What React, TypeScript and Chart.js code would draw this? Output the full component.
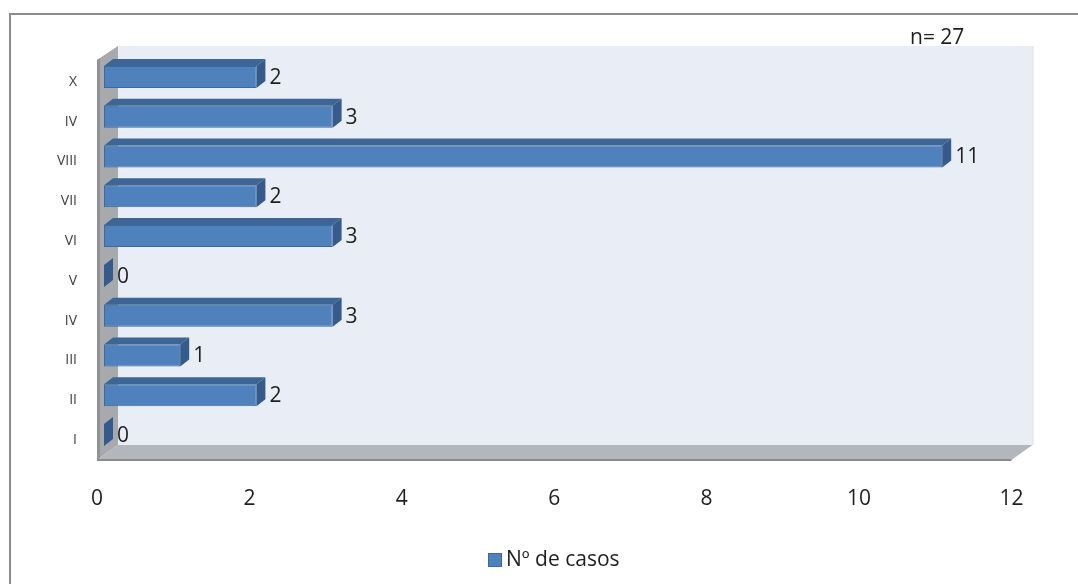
import { useEffect, useRef } from "react";
import { Chart, registerables } from "chart.js";

Chart.register(...registerables);

// Categories listed bottom-to-top, as they appear on the axis
const categories = ["I", "II", "III", "IV", "V", "VI", "VII", "VIII", "IV", "X"];
const casos = [0, 2, 1, 3, 0, 3, 2, 11, 3, 2];
const xTickValues = [0, 2, 4, 6, 8, 10, 12];
const seriesName = "Nº de casos";
const sampleNote = "n= 27";

const FONT = "'Open Sans', Lato, sans-serif";
const TEXT = "#1f1f1f";

// 3D look: the bars sit on a plane between the floor's front edge and the back wall
const FRONT = { dx: -7, dy: 5 };
const BACK = { dx: 14, dy: -10 };
const BAR_DEPTH = { dx: 9, dy: -7 };

const BLUE = "#4f81bd";
const BLUE_EDGE = "#3d6a9e";
const BLUE_TOP = "#3d6596";
const BLUE_SIDE = "#345b8b";

const poly = (ctx: CanvasRenderingContext2D, pts: number[][], fill: string) => {
  ctx.beginPath();
  ctx.moveTo(pts[0][0], pts[0][1]);
  for (let i = 1; i < pts.length; i++) ctx.lineTo(pts[i][0], pts[i][1]);
  ctx.closePath();
  ctx.fillStyle = fill;
  ctx.fill();
};

const scene3d = {
  id: "scene3d",
  beforeDraw(chart: any) {
    const ctx: CanvasRenderingContext2D = chart.ctx;
    ctx.save();
    ctx.fillStyle = "#ffffff";
    ctx.fillRect(0, 0, chart.width, chart.height);
    // outer chart frame
    ctx.strokeStyle = "#8c8c8c";
    ctx.lineWidth = 2;
    ctx.beginPath();
    ctx.moveTo(10, chart.height + 10);
    ctx.lineTo(10, 14);
    ctx.lineTo(chart.width + 10, 14);
    ctx.stroke();
    ctx.restore();
  },
  beforeDatasetsDraw(chart: any) {
    const ctx: CanvasRenderingContext2D = chart.ctx;
    const { left, right, top, bottom } = chart.chartArea;
    ctx.save();
    // back wall
    const bl = left + BACK.dx, br = right + BACK.dx;
    const bt = top + BACK.dy - 1, bb = bottom + BACK.dy;
    ctx.fillStyle = "#e9edf5";
    ctx.fillRect(bl, bt, br - bl, bb - bt);
    ctx.strokeStyle = "#d6dae2";
    ctx.lineWidth = 1;
    ctx.beginPath();
    ctx.moveTo(br + 0.5, bt);
    ctx.lineTo(br + 0.5, bb);
    ctx.stroke();

    // left wall
    const fl = left + FRONT.dx;
    poly(ctx, [
      [fl, top + FRONT.dy - 2],
      [bl, bt],
      [bl, bb],
      [fl, bottom + FRONT.dy],
    ], "#a7a9ac");
    poly(ctx, [
      [fl, top + FRONT.dy - 2],
      [fl + 3, top + FRONT.dy - 4],
      [fl + 3, bottom + FRONT.dy - 2],
      [fl, bottom + FRONT.dy],
    ], "#909193");

    // floor
    const fr = right + FRONT.dx;
    poly(ctx, [
      [fl, bottom + FRONT.dy],
      [bl, bb],
      [br, bb],
      [fr, bottom + FRONT.dy],
    ], "#b3b6ba");
    ctx.strokeStyle = "#8a8b8d";
    ctx.lineWidth = 2;
    ctx.beginPath();
    ctx.moveTo(fl, bottom + FRONT.dy);
    ctx.lineTo(fr, bottom + FRONT.dy);
    ctx.stroke();
    ctx.restore();
  },
  afterDatasetsDraw(chart: any) {
    const ctx: CanvasRenderingContext2D = chart.ctx;
    const meta = chart.getDatasetMeta(0);
    const values = chart.data.datasets[0].data as number[];
    ctx.save();
    meta.data.forEach((bar: any, i: number) => {
      const { x, y, base, height } = bar.getProps(["x", "y", "base", "height"], true);
      const yTop = y - height / 2;
      const yBot = y + height / 2;
      const { dx, dy } = BAR_DEPTH;
      // top face
      if (x > base) {
        poly(ctx, [
          [base, yTop],
          [base + dx, yTop + dy],
          [x + dx, yTop + dy],
          [x, yTop],
        ], BLUE_TOP);
      }
      // end face
      poly(ctx, [
        [x, yTop],
        [x + dx, yTop + dy],
        [x + dx, yBot + dy],
        [x, yBot],
      ], BLUE_SIDE);
      // value label
      ctx.fillStyle = TEXT;
      ctx.font = `21px ${FONT}`;
      ctx.textAlign = "left";
      ctx.textBaseline = "middle";
      ctx.fillText(String(values[i]), x + 13, y + 1);
    });
    ctx.restore();
  },
  afterDraw(chart: any) {
    const ctx: CanvasRenderingContext2D = chart.ctx;
    ctx.save();
    ctx.font = `21px ${FONT}`;
    ctx.textAlign = "left";
    ctx.textBaseline = "middle";
    ctx.fillStyle = TEXT;
    // sample size note
    ctx.fillText(sampleNote, 910, 38);
    // series key below the axis
    const ds = chart.data.datasets[0];
    ctx.fillStyle = ds.backgroundColor;
    ctx.fillRect(488, 553, 14, 14);
    ctx.strokeStyle = ds.borderColor;
    ctx.lineWidth = 1;
    ctx.strokeRect(488.5, 553.5, 13, 13);
    ctx.fillStyle = TEXT;
    ctx.fillText(ds.label, 506, 560);
    ctx.restore();
  },
};

export default function App() {
  const canvasRef = useRef<HTMLCanvasElement>(null);

  useEffect(() => {
    if (!canvasRef.current) return;
    const chart = new Chart(canvasRef.current, {
      type: "bar",
      data: {
        labels: categories,
        datasets: [
          {
            label: seriesName,
            data: casos,
            backgroundColor: BLUE,
            borderColor: BLUE_EDGE,
            borderWidth: 1,
            borderSkipped: false,
            barPercentage: 0.553,
            categoryPercentage: 1,
          },
        ],
      },
      options: {
        indexAxis: "y",
        responsive: false,
        animation: false,
        devicePixelRatio: 1,
        layout: { padding: { left: 42, right: 59.6, top: 57, bottom: 0 } },
        scales: {
          x: {
            min: 0,
            max: 12,
            afterBuildTicks: (scale: any) => {
              scale.ticks = xTickValues.map((v) => ({ value: v }));
            },
            afterFit: (scale: any) => {
              scale.height = 129;
            },
            grid: { display: false, drawTicks: false },
            border: { display: false },
            ticks: {
              font: { family: FONT, size: 21 },
              color: TEXT,
              padding: 31,
              labelOffset: FRONT.dx,
              maxRotation: 0,
            },
          },
          y: {
            reverse: true,
            afterFit: (scale: any) => {
              scale.width = 62;
            },
            grid: { display: false, drawTicks: false },
            border: { display: false },
            ticks: {
              font: { family: FONT, size: 14 },
              color: "#404040",
              padding: 27,
              labelOffset: FRONT.dy,
            },
          },
        },
        plugins: {
          legend: { display: false },
          tooltip: { enabled: false },
        },
      },
      plugins: [scene3d],
    });
    return () => chart.destroy();
  }, []);

  return (
    <div style={{ position: "absolute", left: 0, top: 0, width: 1078, height: 584, background: "#fff" }}>
      <canvas ref={canvasRef} width={1078} height={584} style={{ display: "block", width: 1078, height: 584 }} />
    </div>
  );
}
